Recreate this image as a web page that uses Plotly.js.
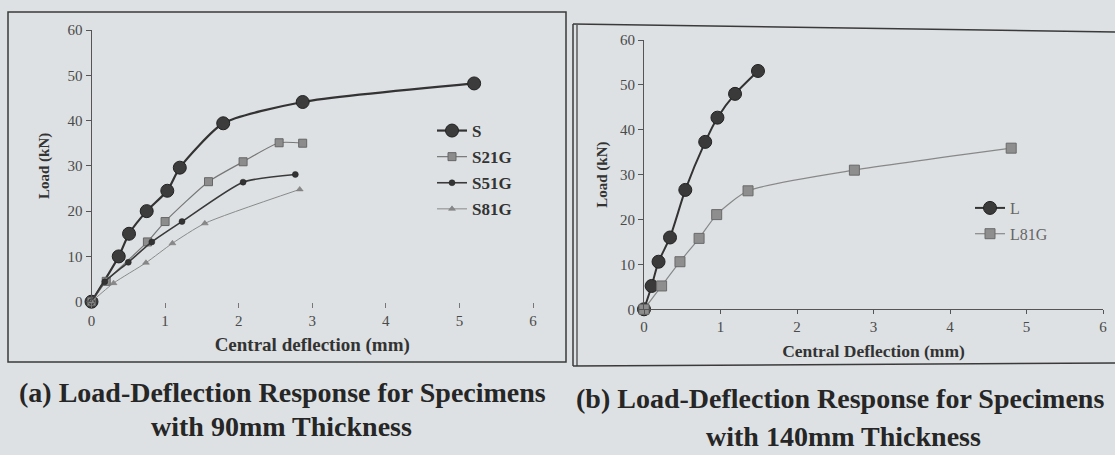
<!DOCTYPE html>
<html><head><meta charset="utf-8">
<script src="https://cdn.plot.ly/plotly-3.0.1.min.js"></script>
<style>html,body{margin:0;padding:0;background:#dde1e3;}</style>
</head><body><div id="chart" style="width:1115px;height:455px;"></div>
<script>
// ---- data ----
const sX = [0, 0.37, 0.51, 0.75, 1.03, 1.2, 1.79, 2.87, 5.2];
const sY = [0, 10, 15, 20, 24.5, 29.6, 39.4, 44.1, 48.2];
const s21gX = [0, 0.2, 0.76, 1.0, 1.59, 2.06, 2.55, 2.87];
const s21gY = [0, 4.5, 13.2, 17.7, 26.5, 30.9, 35.1, 35.0];
const s51gX = [0, 0.18, 0.5, 0.82, 1.23, 2.06, 2.77];
const s51gY = [0, 4.4, 8.7, 13.2, 17.7, 26.4, 28.1];
const s81gX = [0, 0.3, 0.74, 1.1, 1.54, 2.83];
const s81gY = [0, 4.1, 8.6, 12.9, 17.3, 24.8];
const lX = [0, 0.1, 0.19, 0.34, 0.54, 0.8, 0.96, 1.19, 1.49];
const lY = [0, 5.2, 10.6, 16, 26.6, 37.3, 42.7, 48, 53.1];
const l81gX = [0, 0.23, 0.47, 0.72, 0.95, 1.36, 2.75, 4.8];
const l81gY = [0, 5.2, 10.6, 15.8, 21.1, 26.4, 31.0, 35.9];
const xTicks = [0, 1, 2, 3, 4, 5, 6];
const yTicks = [0, 10, 20, 30, 40, 50, 60];
const leftNames = ['S', 'S21G', 'S51G', 'S81G'];
const rightNames = ['L', 'L81G'];
const xTitleA = 'Central deflection (mm)';
const xTitleB = 'Central Deflection (mm)';
const yTitle = 'Load (kN)';
const captionA = ['(a) Load-Deflection Response for Specimens', 'with 90mm Thickness'];
const captionB = ['(b) Load-Deflection Response for Specimens', 'with 140mm Thickness'];

// ---- layout helpers ----
const W = 1115, H = 455;
const px = v => v / W, py = v => 1 - v / H;
const serif = '"Liberation Serif", "Times New Roman", serif';
const tickFont = {family: serif, size: 15, color: '#4a4a4a'};

function tr(x, y, name, xa, ya, leg, grp, mk, ln) {
  return {x: x, y: y, name: name, xaxis: xa, yaxis: ya, legend: leg, legendgroup: grp,
    type: 'scatter', mode: 'lines+markers', cliponaxis: false,
    line: Object.assign({shape: 'spline', smoothing: 0.6}, ln), marker: mk};
}

const data = [
  tr(sX, sY, leftNames[0], 'x', 'y', 'legend', 'a1',
     {symbol: 'circle', size: 13, color: '#3c3c3c', line: {color: '#222', width: 1}},
     {color: '#333', width: 2.2}),
  tr(s21gX, s21gY, leftNames[1], 'x', 'y', 'legend', 'a2',
     {symbol: 'square', size: 8, color: '#8c8c8c', line: {color: '#666', width: 1}},
     {color: '#777', width: 1.2}),
  tr(s51gX, s51gY, leftNames[2], 'x', 'y', 'legend', 'a3',
     {symbol: 'circle', size: 6, color: '#333', line: {color: '#222', width: 0.5}},
     {color: '#3a3a3a', width: 1.6}),
  tr(s81gX, s81gY, leftNames[3], 'x', 'y', 'legend', 'a4',
     {symbol: 'triangle-up', size: 6, color: '#888', line: {color: '#777', width: 0.5}},
     {color: '#8a8a8a', width: 1}),
  tr(lX, lY, rightNames[0], 'x2', 'y2', 'legend2', 'b1',
     {symbol: 'circle', size: 13, color: '#3a3a3a', line: {color: '#222', width: 1}},
     {color: '#333', width: 2}),
  tr(l81gX, l81gY, rightNames[1], 'x2', 'y2', 'legend2', 'b2',
     {symbol: 'square', size: 10, color: '#8e8e8e', line: {color: '#6a6a6a', width: 1}},
     {color: '#888', width: 1.2})
];

const baseAx = {showgrid: false, zeroline: false, tickfont: tickFont};
const layout = {
  width: W, height: H, margin: {l: 0, r: 0, t: 0, b: 0},
  paper_bgcolor: '#dde1e3', plot_bgcolor: 'rgba(0,0,0,0)',
  xaxis: Object.assign({}, baseAx, {domain: [px(91.5), px(533)], range: [0, 6], tickvals: xTicks,
    showline: false, ticks: 'outside', ticklen: 5, tickcolor: '#777', anchor: 'y',
    title: {text: '<b>' + xTitleA + '</b>', font: {family: serif, size: 19, color: '#333'}, standoff: 9}}),
  yaxis: Object.assign({}, baseAx, {domain: [py(301.7), py(30)], range: [0, 60], tickvals: yTicks,
    showline: true, linecolor: '#555', linewidth: 1, ticks: 'outside', ticklen: 5, tickcolor: '#555', anchor: 'x',
    title: {text: '<b>' + yTitle + '</b>', font: {family: serif, size: 15, color: '#333'}, standoff: 14}}),
  yaxis3: {overlaying: 'y', anchor: 'x', range: [0, 60], tickvals: yTicks, ticks: 'inside', ticklen: 5,
    tickcolor: '#555', showticklabels: false, showline: false, showgrid: false, zeroline: false},
  xaxis2: Object.assign({}, baseAx, {domain: [px(644), px(1103)], range: [0, 6], tickvals: xTicks,
    showline: true, linecolor: '#555', linewidth: 1, ticks: 'outside', ticklen: 4, tickcolor: '#555', anchor: 'y2',
    title: {text: '<b>' + xTitleB + '</b>', font: {family: serif, size: 17.5, color: '#333'}, standoff: 10}}),
  yaxis2: Object.assign({}, baseAx, {domain: [py(309.3), py(40)], range: [0, 60], tickvals: yTicks,
    showline: true, linecolor: '#555', linewidth: 1, ticks: 'outside', ticklen: 5, tickcolor: '#555', anchor: 'x2',
    title: {text: '<b>' + yTitle + '</b>', font: {family: serif, size: 15, color: '#333'}, standoff: 8}}),
  yaxis4: {overlaying: 'y2', anchor: 'x2', range: [0, 60], tickvals: yTicks, ticks: 'inside', ticklen: 5,
    tickcolor: '#555', showticklabels: false, showline: false, showgrid: false, zeroline: false},
  xaxis3: {overlaying: 'x2', anchor: 'y2', range: [0, 6], tickvals: xTicks, ticks: 'inside', ticklen: 4,
    tickcolor: '#555', showticklabels: false, showline: false, showgrid: false, zeroline: false},
  legend: {x: px(432), y: py(113), xanchor: 'left', yanchor: 'top', bgcolor: 'rgba(0,0,0,0)',
    tracegroupgap: 1, itemwidth: 30, font: {family: serif, size: 17, color: '#333', weight: 'bold'}},
  legend2: {x: px(970), y: py(191), xanchor: 'left', yanchor: 'top', bgcolor: 'rgba(0,0,0,0)',
    tracegroupgap: 2, itemwidth: 30, font: {family: serif, size: 16, color: '#666'}},
  shapes: [
    {type: 'rect', xref: 'paper', yref: 'paper', x0: px(8), x1: px(566), y0: py(12), y1: py(362),
      line: {color: '#3a3a3a', width: 1.5}},
    {type: 'line', xref: 'paper', yref: 'paper', x0: px(573), x1: px(1115), y0: py(24), y1: py(32),
      line: {color: '#3a3a3a', width: 1.5}},
    {type: 'line', xref: 'paper', yref: 'paper', x0: px(573), x1: px(573), y0: py(24), y1: py(366),
      line: {color: '#3a3a3a', width: 1.5}},
    {type: 'line', xref: 'paper', yref: 'paper', x0: px(577), x1: px(577), y0: py(25), y1: py(366),
      line: {color: '#3a3a3a', width: 1.2}},
    {type: 'line', xref: 'paper', yref: 'paper', x0: px(573), x1: px(1115), y0: py(366), y1: py(363),
      line: {color: '#3a3a3a', width: 1.5}}
  ],
  annotations: [
    {text: '<b>' + captionA[0] + '</b>', x: px(282), y: py(392)},
    {text: '<b>' + captionA[1] + '</b>', x: px(281), y: py(426)},
    {text: '<b>' + captionB[0] + '</b>', x: px(840), y: py(398)},
    {text: '<b>' + captionB[1] + '</b>', x: px(843), y: py(436)}
  ].map(a => Object.assign({xref: 'paper', yref: 'paper', xanchor: 'center', yanchor: 'middle',
    showarrow: false, font: {family: serif, size: 28, color: '#262626'}}, a))
};

Plotly.newPlot('chart', data, layout, {staticPlot: true, displayModeBar: false});
</script>
</body></html>
